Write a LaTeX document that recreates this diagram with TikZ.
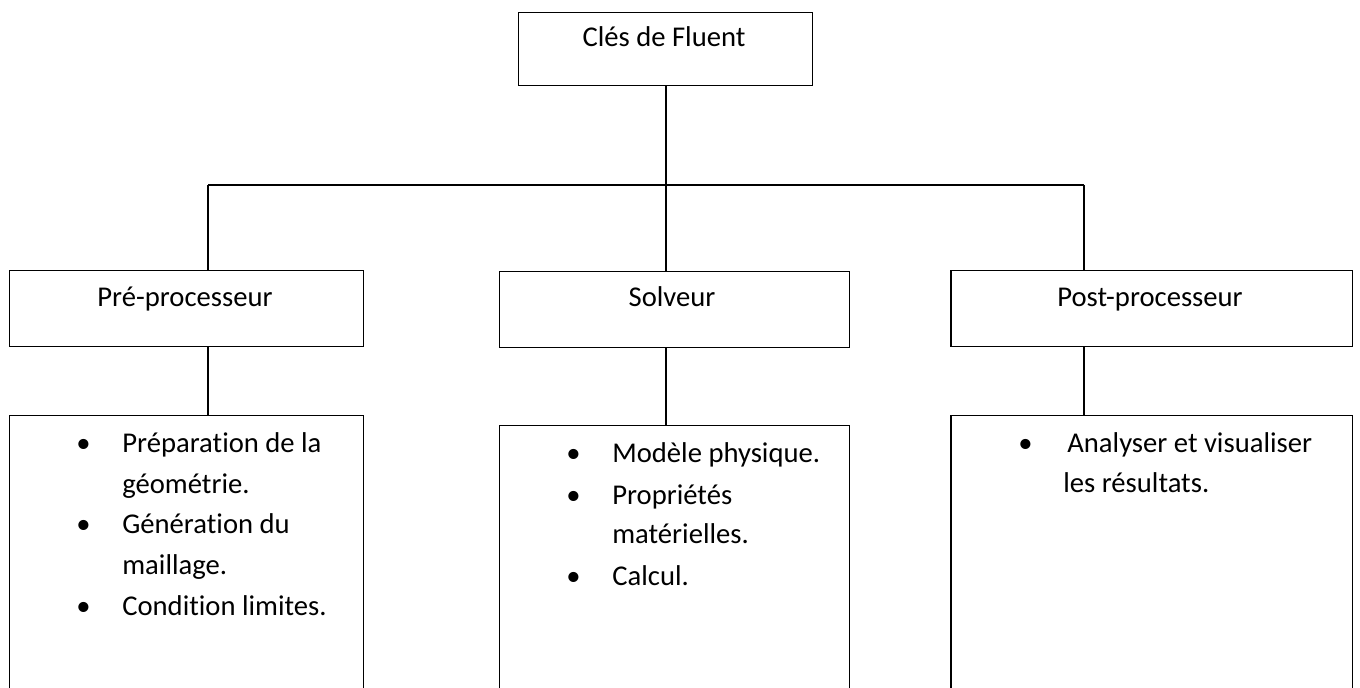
\documentclass[tikz,border=0pt]{standalone}
\usepackage{fontspec}
\setmainfont[Ligatures=NoCommon]{Carlito}
\usetikzlibrary{positioning}

\begin{document}
\begin{tikzpicture}[
    x=0.02cm, y=-0.02cm,
    box/.style={rectangle, draw=black, line width=0.85pt, anchor=north west, inner sep=0pt, minimum height=1.52cm},
    label/.style={anchor=base, inner sep=0pt, font=\fontsize{16.3}{23}\selectfont},
    item/.style={anchor=base west, inner sep=0pt, font=\fontsize{16.3}{23}\selectfont},
    link/.style={line width=0.85pt, black}
]
\useasboundingbox (0,0) rectangle (1360,688);
\clip (0,0) rectangle (1360,688);

% boxes
\node[box, minimum width=5.88cm, minimum height=1.46cm] (cles) at (518,12) {};
\node[box, minimum width=7.08cm] (pre) at (9,270) {};
\node[box, minimum width=7.00cm] (solv) at (499,271) {};
\node[box, minimum width=8.04cm] (post) at (950,270) {};
\node[box, minimum width=7.08cm, minimum height=6.9cm] (preL) at (9,415) {};
\node[box, minimum width=7.00cm, minimum height=6.9cm] (solvL) at (499,425) {};
\node[box, minimum width=8.04cm, minimum height=6.9cm] (postL) at (950,415) {};

% titles
\node[label] (clesT) at (664,47) {Clés de Fluent};
\node[label] (preT) at (185,307) {Pré-processeur};
\node[label] (solvT) at (672,307) {Solveur};
\node[label] (postT) at (1150,307) {Post-processeur};

% pre-processeur items
\node[item] (b1) at (76,453) {•};
\node[item] (p1) at (122,453) {Préparation de la};
\node[item] (p1b) at (122,494) {géométrie.};
\node[item] (b2) at (76,534) {•};
\node[item] (p2) at (122,534) {Génération du};
\node[item] (p2b) at (122,575) {maillage.};
\node[item] (b3) at (76,616) {•};
\node[item] (p3) at (122,616) {Condition limites.};

% solveur items
\node[item] (b4) at (566,463) {•};
\node[item] (s1) at (612,463) {Modèle physique.};
\node[item] (b5) at (566,505) {•};
\node[item] (s2) at (612,505) {Propriétés};
\node[item] (s2b) at (612,544) {matérielles.};
\node[item] (b6) at (566,586) {•};
\node[item] (s3) at (612,586) {Calcul.};

% post-processeur items
\node[item] (b7) at (1018,453) {•};
\node[item] (q1) at (1067,453) {Analyser et visualiser};
\node[item] (q1b) at (1063,493) {les résultats.};

% connectors
\coordinate (top) at (666,185);
\coordinate (preJ) at (208,185);
\coordinate (solvJ) at (666,185);
\coordinate (postJ) at (1084,185);

\draw[link] (top |- cles.south) -- (top);
\draw[link] (preJ) -- (postJ);
\draw[link] (preJ) -- (preJ |- pre.north);
\draw[link] (solvJ) -- (solvJ |- solv.north);
\draw[link] (postJ) -- (postJ |- post.north);
\draw[link] (preJ |- pre.south) -- (preJ |- preL.north);
\draw[link] (solvJ |- solv.south) -- (solvJ |- solvL.north);
\draw[link] (postJ |- post.south) -- (postJ |- postL.north);
\end{tikzpicture}
\end{document}
